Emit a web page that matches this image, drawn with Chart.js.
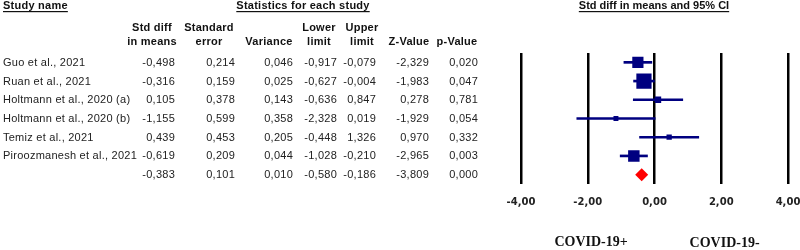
<!DOCTYPE html>
<html>
<head>
<meta charset="utf-8">
<script src="https://cdn.jsdelivr.net/npm/chart.js@4.4.0/dist/chart.umd.min.js"></script>
<style>
  html, body { margin: 0; padding: 0; background: #fff; }
  canvas { display: block; }
</style>
</head>
<body>
<canvas id="forest" width="800" height="250"></canvas>
<script>
// Study data
const studies = [
  "Guo et al., 2021",
  "Ruan et al., 2021",
  "Holtmann et al., 2020 (a)",
  "Holtmann et al., 2020 (b)",
  "Temiz et al., 2021",
  "Piroozmanesh et al., 2021",
  "Overall",
];
const stdDiff = [-0.498, -0.316, 0.105, -1.155, 0.439, -0.619, -0.383];
const stdErr = [0.214, 0.159, 0.378, 0.599, 0.453, 0.209, 0.101];
const variance = [0.046, 0.025, 0.143, 0.358, 0.205, 0.044, 0.010];
const lowerLimit = [-0.917, -0.627, -0.636, -2.328, -0.448, -1.028, -0.580];
const upperLimit = [-0.079, -0.004, 0.847, 0.019, 1.326, -0.210, -0.186];
const zValue = [-2.329, -1.983, 0.278, -1.929, 0.970, -2.965, -3.809];
const pValue = [0.020, 0.047, 0.781, 0.054, 0.332, 0.003, 0.000];

const xTicks = [-4, -2, 0, 2, 4];
const sideLabels = ["COVID-19+", "COVID-19-"];

const nStudies = studies.length - 1;

// table layout: header lines, header centre, right edge of the numbers
const columns = [
  { head: ["Std diff", "in means"], center: 152, right: 175, values: stdDiff },
  { head: ["Standard", "error"], center: 209, right: 235, values: stdErr },
  { head: ["", "Variance"], center: 269, right: 293, values: variance },
  { head: ["Lower", "limit"], center: 319, right: 337, values: lowerLimit },
  { head: ["Upper", "limit"], center: 362, right: 376, values: upperLimit },
  { head: ["", "Z-Value"], center: 409, right: 429, values: zValue },
  { head: ["", "p-Value"], center: 457, right: 478, values: pValue },
];

const fmt = (v) => v.toFixed(3).replace(".", ",");

function underlined(ctx, text, x, y, align) {
  ctx.textAlign = align;
  ctx.fillText(text, x, y);
  const w = ctx.measureText(text).width;
  const x0 = align === "center" ? x - w / 2 : x;
  ctx.fillRect(x0, y + 5, w, 1.2);
}

const tablePlugin = {
  id: "studyTable",
  afterDraw(chart) {
    const ctx = chart.ctx;
    const yScale = chart.scales.y;
    const xScale = chart.scales.x;
    ctx.save();
    ctx.letterSpacing = "0.25px";
    ctx.textBaseline = "middle";
    ctx.fillStyle = "#111";

    // headings
    ctx.font = 'bold 11px "Liberation Sans", Arial, sans-serif';
    underlined(ctx, "Study name", 3, 6, "left");
    underlined(ctx, "Statistics for each study", 303, 6, "center");
    ctx.letterSpacing = "0px";
    underlined(ctx, "Std diff in means and 95% CI", 654, 6, "center");
    ctx.letterSpacing = "0.25px";
    for (const col of columns) {
      ctx.textAlign = "center";
      ctx.fillText(col.head[0], col.center, 28);
      ctx.fillText(col.head[1], col.center, 42);
    }

    // rows
    ctx.font = '11px "Liberation Sans", Arial, sans-serif';
    ctx.fillStyle = "#222";
    studies.forEach((name, i) => {
      const y = yScale.getPixelForValue(i) + 0.5;
      if (i < nStudies) {
        ctx.textAlign = "left";
        ctx.fillText(name, 3, y);
      }
      ctx.textAlign = "right";
      for (const col of columns) ctx.fillText(fmt(col.values[i]), col.right, y);
    });

    // direction labels under the axis
    ctx.letterSpacing = "0px";
    ctx.font = 'bold 14px "Liberation Serif", "Times New Roman", serif';
    ctx.fillStyle = "#111";
    ctx.textAlign = "center";
    ctx.fillText(sideLabels[0], xScale.getPixelForValue(-1.9), 242);
    ctx.fillText(sideLabels[1], xScale.getPixelForValue(2.1), 243);
    ctx.restore();
  },
};

const studyIdx = studies.slice(0, nStudies).map((_, i) => i);

new Chart(document.getElementById("forest"), {
  type: "bar",
  data: {
    labels: studies,
    datasets: [
      {
        type: "scatter",
        data: studyIdx.map((i) => ({ x: stdDiff[i], y: studies[i] })),
        pointStyle: "rect",
        // marker size grows with study weight (1 / variance)
        pointRadius: studyIdx.map((i) => Math.max(3.5, 1.7 * Math.sqrt(1 / variance[i]))),
        backgroundColor: "#000080",
        borderColor: "#000080",
        borderWidth: 0,
      },
      {
        type: "scatter",
        data: [{ x: stdDiff[nStudies], y: studies[nStudies] }],
        pointStyle: "rectRot",
        pointRadius: 6.5,
        backgroundColor: "#ff0000",
        borderColor: "#ff0000",
        borderWidth: 0,
      },
      {
        type: "bar",
        data: studyIdx.map((i) => [lowerLimit[i], upperLimit[i]]),
        backgroundColor: "#000080",
        barThickness: 2,
        borderWidth: 0,
      },
    ],
  },
  options: {
    indexAxis: "y",
    responsive: false,
    animation: false,
    events: [],
    layout: { padding: { left: 521, right: 12, top: 53, bottom: 0 } },
    plugins: { legend: { display: false }, tooltip: { enabled: false } },
    scales: {
      x: {
        type: "linear",
        min: -4,
        max: 4,
        afterBuildTicks: (scale) => {
          scale.ticks = xTicks.map((v) => ({ value: v }));
        },
        afterFit: (scale) => {
          scale.height = 66;
          scale.paddingLeft = 0;
          scale.paddingRight = 0;
        },
        grid: { color: "#000", lineWidth: 2.5, drawTicks: false },
        border: { display: false },
        ticks: {
          padding: 12,
          color: "#222",
          font: { family: '"DejaVu Sans", Tahoma, sans-serif', size: 10, weight: "bold" },
          callback: (v) => v.toFixed(2).replace(".", ","),
        },
      },
      y: {
        type: "category",
        display: false,
        offset: true,
        grid: { display: false },
      },
    },
  },
  plugins: [tablePlugin],
});
</script>
</body>
</html>
